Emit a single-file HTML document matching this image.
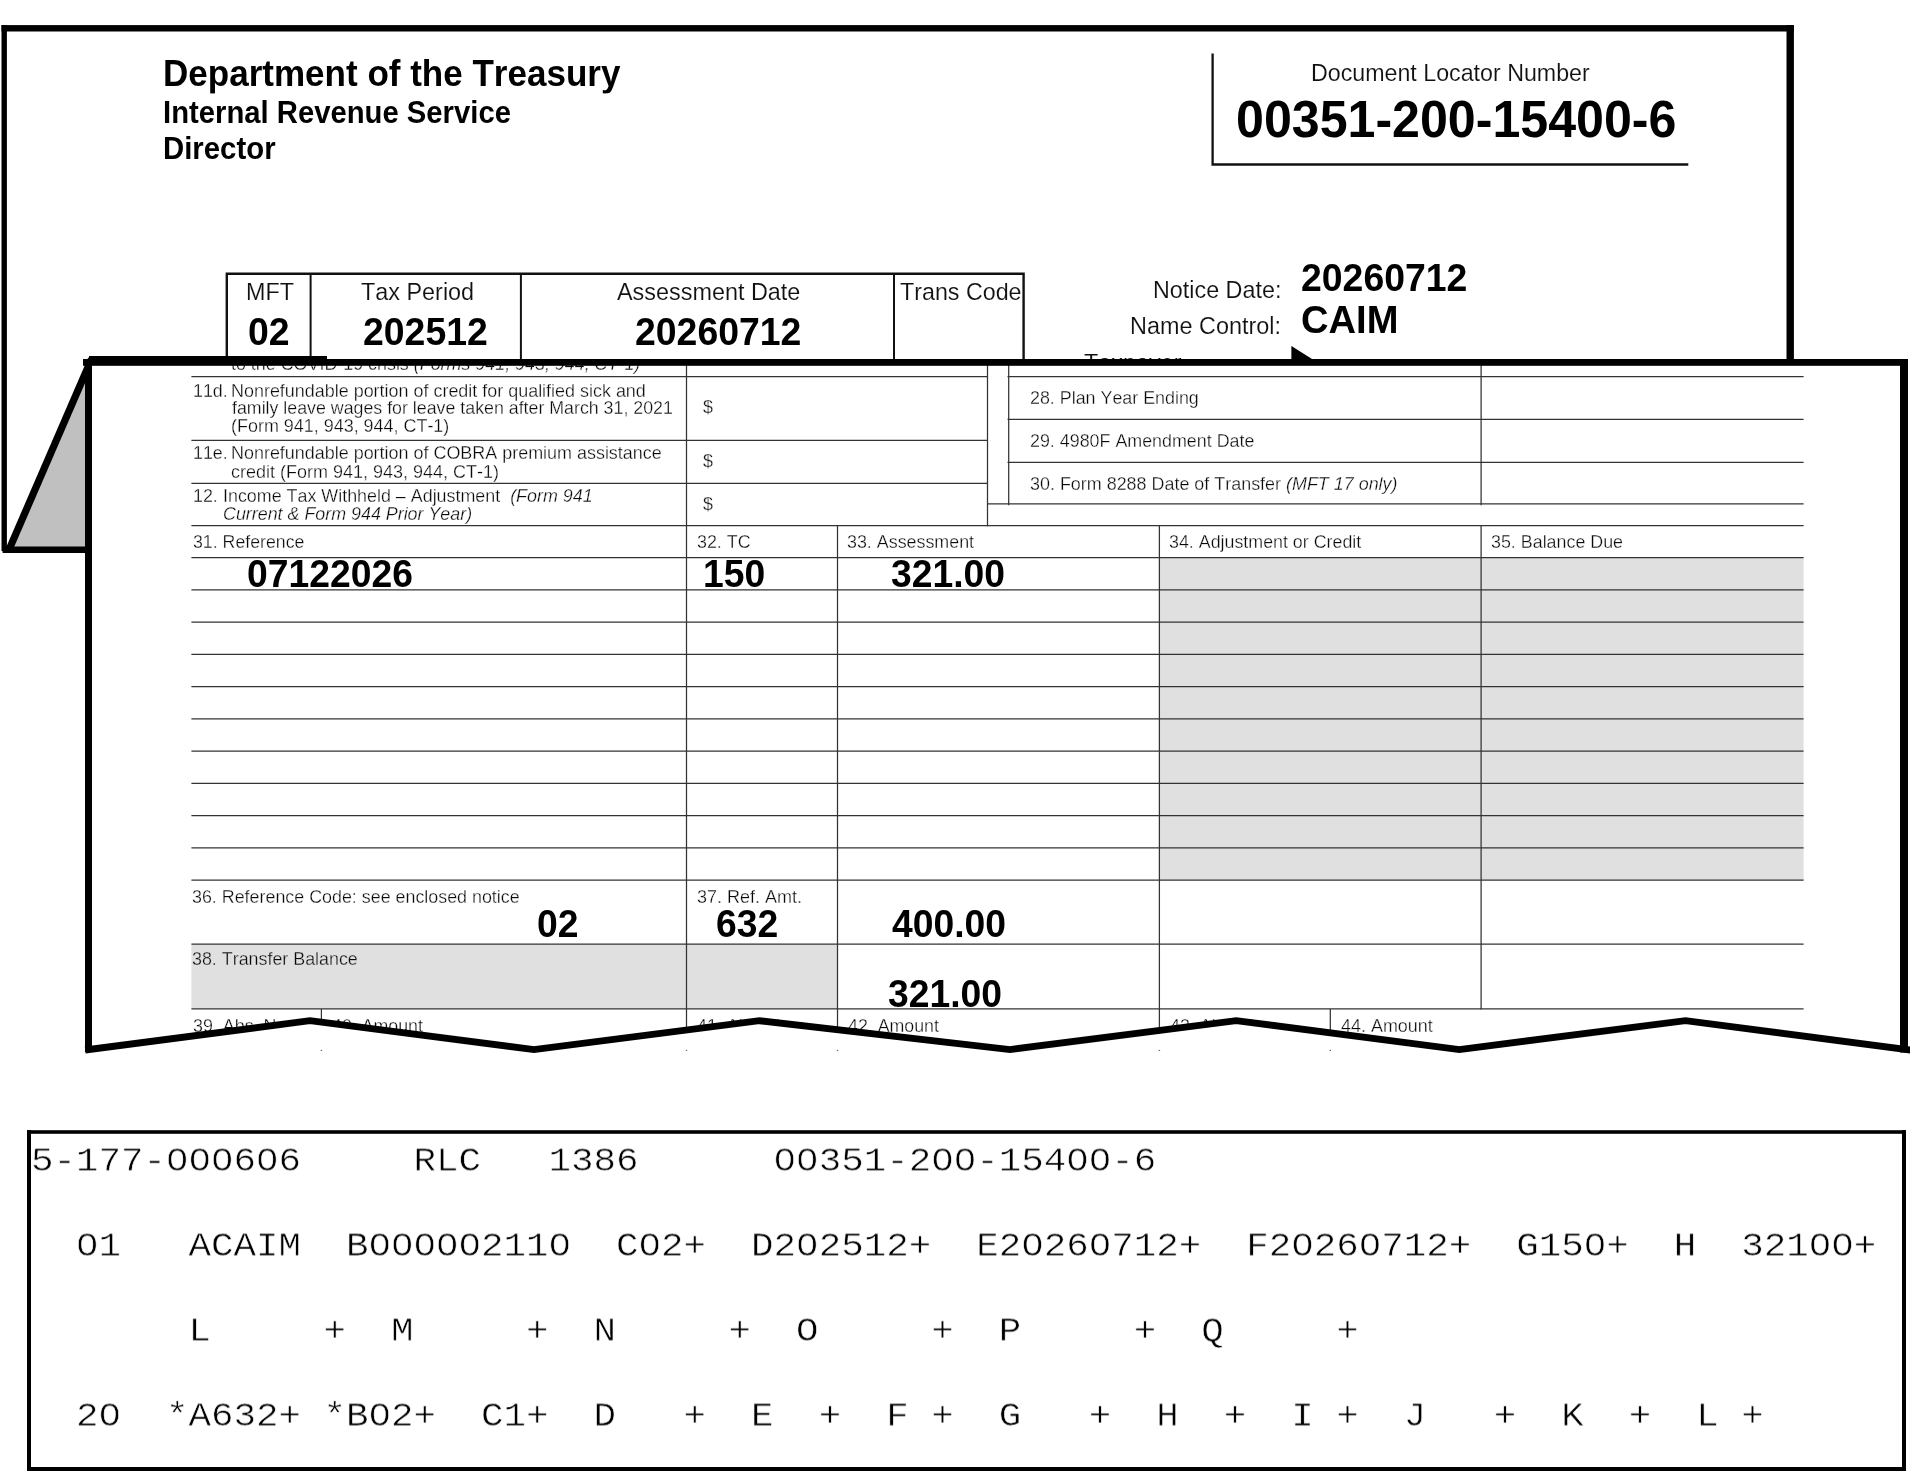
<!DOCTYPE html>
<html lang="en"><head><meta charset="utf-8"><title>Form 3552 example</title>
<style>
html,body{margin:0;padding:0;background:#fff;}
body{width:1910px;height:1471px;position:relative;overflow:hidden;font-family:"Liberation Sans",sans-serif;color:#000;font-kerning:none;}
.t{position:absolute;white-space:pre;line-height:1;will-change:transform;}
svg{position:absolute;left:0;top:0;}
#front{position:absolute;left:0;top:0;width:1910px;height:1471px;clip-path:polygon(88.5px 362.4px,1904px 362.4px,1904px 1049.4px,1685.5px 1020.7px,1459.3px 1049.6px,1236.2px 1020.7px,1010px 1049.6px,759.5px 1020.7px,534px 1049.6px,310px 1020.7px,88.5px 1049.6px);}
.m{position:absolute;white-space:pre;line-height:1;font-family:"Liberation Mono",monospace;font-size:37.5px;left:30.6px;color:#000;will-change:transform;-webkit-text-stroke:0.6px #fff;transform:translateY(0.5px) scaleY(0.915);transform-origin:0 28px;}
</style></head><body>

<svg width="1910" height="1471" viewBox="0 0 1910 1471">
<rect x="1.5" y="25.1" width="1792.4" height="6.4" fill="#000"/>
<rect x="1786.5" y="25.1" width="7.4" height="340" fill="#000"/>
<rect x="1.5" y="25.1" width="5.4" height="526" fill="#000"/>
<rect x="2.6" y="546" width="88" height="7" fill="#000"/>
<path d="M1212.6 53.6 L1212.6 164.5 L1688.3 164.5" fill="none" stroke="#111" stroke-width="2.3"/>
<path d="M226.8 364 L226.8 273.8 L1023.6 273.8 L1023.6 364" fill="none" stroke="#111" stroke-width="2.4"/>
<path d="M310.6 274 L310.6 364" stroke="#111" stroke-width="2" fill="none"/>
<path d="M520.9 274 L520.9 364" stroke="#111" stroke-width="2" fill="none"/>
<path d="M894.0 274 L894.0 364" stroke="#111" stroke-width="2" fill="none"/>
<polygon points="1291.4,346 1316,361.5 1291.4,377" fill="#000"/>
<polygon points="10.4,546.5 89.5,363.7 89.5,546.5" fill="#c0c0c0"/>
<clipPath id="cd"><rect x="1.5" y="350" width="95" height="203"/></clipPath>
<path d="M7.4 553.4 L91.5 359" stroke="#000" stroke-width="7.2" fill="none" clip-path="url(#cd)"/>
</svg>
<div class="t" style="left:162.66px;top:56px;font-size:35.04px;font-weight:bold;transform:scaleY(1.05);transform-origin:0 30px;">Department of the Treasury</div>
<div class="t" style="left:163.04px;top:99px;font-size:29.25px;font-weight:bold;transform:scaleY(1.09);transform-origin:0 24px;">Internal Revenue Service</div>
<div class="t" style="left:163.04px;top:134px;font-size:29.37px;font-weight:bold;transform:scaleY(1.095);transform-origin:0 25px;">Director</div>
<div class="t" style="left:1311.49px;top:62px;font-size:23.23px;color:#111;-webkit-text-stroke:0.12px #fff;transform:scaleY(1.02);transform-origin:0 19px;">Document Locator Number</div>
<div class="t" style="left:1236.02px;top:95px;font-size:50.14px;font-weight:bold;transform:scaleY(1.02);transform-origin:0 42px;">00351-200-15400-6</div>
<div class="t" style="left:246.19px;top:281px;font-size:23.34px;color:#111;-webkit-text-stroke:0.12px #fff;transform:scaleY(1.02);transform-origin:0 19px;">MFT</div>
<div class="t" style="left:361.07px;top:281px;font-size:23.40px;color:#111;-webkit-text-stroke:0.12px #fff;transform:scaleY(1.02);transform-origin:0 19px;">Tax Period</div>
<div class="t" style="left:616.85px;top:281px;font-size:23.40px;color:#111;-webkit-text-stroke:0.12px #fff;transform:scaleY(1.02);transform-origin:0 19px;">Assessment Date</div>
<div class="t" style="left:899.98px;top:281px;font-size:23.27px;color:#111;-webkit-text-stroke:0.12px #fff;transform:scaleY(1.02);transform-origin:0 19px;">Trans Code</div>
<div class="t" style="left:248.21px;top:314px;font-size:37.40px;font-weight:bold;transform:scaleY(1.02);transform-origin:0 31px;">02</div>
<div class="t" style="left:363.25px;top:314px;font-size:37.40px;font-weight:bold;transform:scaleY(1.02);transform-origin:0 31px;">202512</div>
<div class="t" style="left:634.75px;top:314px;font-size:37.40px;font-weight:bold;transform:scaleY(1.02);transform-origin:0 31px;">20260712</div>
<div class="t" style="left:1152.99px;top:279px;font-size:23.34px;color:#111;-webkit-text-stroke:0.12px #fff;transform:scaleY(1.02);transform-origin:0 19px;">Notice Date:</div>
<div class="t" style="left:1130.38px;top:315px;font-size:23.43px;color:#111;-webkit-text-stroke:0.12px #fff;transform:scaleY(1.02);transform-origin:0 19px;">Name Control:</div>
<div class="t" style="left:1301.25px;top:260px;font-size:37.40px;font-weight:bold;transform:scaleY(1.02);transform-origin:0 31px;">20260712</div>
<div class="t" style="left:1300.74px;top:301px;font-size:38.12px;font-weight:bold;transform:scaleY(1.02);transform-origin:0 32px;">CAIM</div>
<div class="t" style="left:1084.07px;top:352px;font-size:23.40px;color:#111;-webkit-text-stroke:0.12px #fff;transform:scaleY(1.02);transform-origin:0 19px;">Taxpayer</div>
<svg width="1910" height="1471" viewBox="0 0 1910 1471">
<polygon points="88.5,362.4 1904,362.4 1904,1049.4 1685.5,1020.7 1459.3,1049.6 1236.2,1020.7 1010,1049.6 759.5,1020.7 534,1049.6 310,1020.7 88.5,1049.6" fill="#fff" stroke="none"/>
</svg>
<div id="front">
<svg width="1910" height="1471" viewBox="0 0 1910 1471">
<rect x="1159.4" y="557.7" width="644.2" height="322.4" fill="#e0e0e0"/>
<rect x="191.4" y="944.2" width="646.1" height="64.7" fill="#e0e0e0"/>
<path d="M191.4 376.6 L987.6 376.6" stroke="#333" stroke-width="1.25" fill="none"/>
<path d="M1007.5 376.6 L1803.6 376.6" stroke="#333" stroke-width="1.25" fill="none"/>
<path d="M191.4 440.4 L987.6 440.4" stroke="#333" stroke-width="1.25" fill="none"/>
<path d="M191.4 483.4 L987.6 483.4" stroke="#333" stroke-width="1.25" fill="none"/>
<path d="M191.4 525.5 L1803.6 525.5" stroke="#333" stroke-width="1.25" fill="none"/>
<path d="M1007.5 419.3 L1803.6 419.3" stroke="#333" stroke-width="1.25" fill="none"/>
<path d="M1007.5 462.4 L1803.6 462.4" stroke="#333" stroke-width="1.25" fill="none"/>
<path d="M987.6 503.9 L1803.6 503.9" stroke="#333" stroke-width="1.25" fill="none"/>
<path d="M191.4 557.7 L1803.6 557.7" stroke="#333" stroke-width="1.25" fill="none"/>
<path d="M191.4 589.94 L1803.6 589.94" stroke="#333" stroke-width="1.25" fill="none"/>
<path d="M191.4 622.18 L1803.6 622.18" stroke="#333" stroke-width="1.25" fill="none"/>
<path d="M191.4 654.42 L1803.6 654.42" stroke="#333" stroke-width="1.25" fill="none"/>
<path d="M191.4 686.66 L1803.6 686.66" stroke="#333" stroke-width="1.25" fill="none"/>
<path d="M191.4 718.9 L1803.6 718.9" stroke="#333" stroke-width="1.25" fill="none"/>
<path d="M191.4 751.14 L1803.6 751.14" stroke="#333" stroke-width="1.25" fill="none"/>
<path d="M191.4 783.38 L1803.6 783.38" stroke="#333" stroke-width="1.25" fill="none"/>
<path d="M191.4 815.62 L1803.6 815.62" stroke="#333" stroke-width="1.25" fill="none"/>
<path d="M191.4 847.86 L1803.6 847.86" stroke="#333" stroke-width="1.25" fill="none"/>
<path d="M191.4 880.1 L1803.6 880.1" stroke="#333" stroke-width="1.25" fill="none"/>
<path d="M191.4 944.2 L1803.6 944.2" stroke="#333" stroke-width="1.25" fill="none"/>
<path d="M191.4 1008.9 L1803.6 1008.9" stroke="#333" stroke-width="1.25" fill="none"/>
<path d="M686.5 362 L686.5 1062" stroke="#333" stroke-width="1.25" fill="none"/>
<path d="M987.5 362 L987.5 526.3" stroke="#333" stroke-width="1.25" fill="none"/>
<path d="M1008.7 362 L1008.7 505.3" stroke="#333" stroke-width="1.25" fill="none"/>
<path d="M1481.1 362 L1481.1 505.3" stroke="#333" stroke-width="1.25" fill="none"/>
<path d="M1481.1 525.5 L1481.1 1009.6" stroke="#333" stroke-width="1.25" fill="none"/>
<path d="M837.5 525.5 L837.5 1062" stroke="#333" stroke-width="1.25" fill="none"/>
<path d="M1159.4 525.5 L1159.4 1062" stroke="#333" stroke-width="1.25" fill="none"/>
<path d="M321.4 1009 L321.4 1062" stroke="#333" stroke-width="1.25" fill="none"/>
<path d="M1330.3 1009 L1330.3 1062" stroke="#333" stroke-width="1.25" fill="none"/>
</svg>
<div class="t" style="left:231.43px;top:356px;font-size:17.89px;color:#0a0a0a;-webkit-text-stroke:0.3px #fff;transform:scaleY(1.02);transform-origin:0 14px;">to the COVID-19 crisis <i>(Forms 941, 943, 944, CT-1)</i></div>
<div class="t" style="left:193.24px;top:383px;font-size:17.88px;color:#0a0a0a;-webkit-text-stroke:0.3px #fff;transform:scaleY(1.02);transform-origin:0 14px;">11d.</div>
<div class="t" style="left:231.13px;top:383px;font-size:17.95px;color:#0a0a0a;-webkit-text-stroke:0.3px #fff;transform:scaleY(1.02);transform-origin:0 14px;">Nonrefundable portion of credit for qualified sick and</div>
<div class="t" style="left:231.95px;top:400px;font-size:17.79px;color:#0a0a0a;-webkit-text-stroke:0.3px #fff;transform:scaleY(1.02);transform-origin:0 14px;">family leave wages for leave taken after March 31, 2021</div>
<div class="t" style="left:231.19px;top:418px;font-size:17.97px;color:#0a0a0a;-webkit-text-stroke:0.3px #fff;transform:scaleY(1.02);transform-origin:0 14px;">(Form 941, 943, 944, CT-1)</div>
<div class="t" style="left:193.24px;top:445px;font-size:17.88px;color:#0a0a0a;-webkit-text-stroke:0.3px #fff;transform:scaleY(1.02);transform-origin:0 14px;">11e.</div>
<div class="t" style="left:231.13px;top:445px;font-size:17.95px;color:#0a0a0a;-webkit-text-stroke:0.3px #fff;transform:scaleY(1.02);transform-origin:0 14px;">Nonrefundable portion of COBRA premium assistance</div>
<div class="t" style="left:231.24px;top:463px;font-size:17.99px;color:#0a0a0a;-webkit-text-stroke:0.3px #fff;transform:scaleY(1.02);transform-origin:0 14px;">credit (Form 941, 943, 944, CT-1)</div>
<div class="t" style="left:193.24px;top:488px;font-size:17.88px;color:#0a0a0a;-webkit-text-stroke:0.3px #fff;transform:scaleY(1.02);transform-origin:0 14px;">12.</div>
<div class="t" style="left:223.35px;top:488px;font-size:17.89px;color:#0a0a0a;-webkit-text-stroke:0.3px #fff;transform:scaleY(1.02);transform-origin:0 14px;">Income Tax Withheld – Adjustment  <i>(Form 941</i></div>
<div class="t" style="left:223.41px;top:506px;font-size:17.88px;color:#0a0a0a;-webkit-text-stroke:0.3px #fff;transform:scaleY(1.02);transform-origin:0 14px;"><i>Current &amp; Form 944 Prior Year)</i></div>
<div class="t" style="left:192.52px;top:534px;font-size:17.74px;color:#0a0a0a;-webkit-text-stroke:0.3px #fff;transform:scaleY(1.02);transform-origin:0 14px;">31. Reference</div>
<div class="t" style="left:702.81px;top:399px;font-size:17.88px;color:#0a0a0a;-webkit-text-stroke:0.3px #fff;transform:scaleY(1.02);transform-origin:0 14px;">$</div>
<div class="t" style="left:702.81px;top:453px;font-size:17.88px;color:#0a0a0a;-webkit-text-stroke:0.3px #fff;transform:scaleY(1.02);transform-origin:0 14px;">$</div>
<div class="t" style="left:702.81px;top:496px;font-size:17.88px;color:#0a0a0a;-webkit-text-stroke:0.3px #fff;transform:scaleY(1.02);transform-origin:0 14px;">$</div>
<div class="t" style="left:1029.60px;top:390px;font-size:17.88px;color:#0a0a0a;-webkit-text-stroke:0.3px #fff;transform:scaleY(1.02);transform-origin:0 14px;">28. Plan Year Ending</div>
<div class="t" style="left:1029.60px;top:433px;font-size:17.86px;color:#0a0a0a;-webkit-text-stroke:0.3px #fff;transform:scaleY(1.02);transform-origin:0 14px;">29. 4980F Amendment Date</div>
<div class="t" style="left:1029.82px;top:476px;font-size:17.93px;color:#0a0a0a;-webkit-text-stroke:0.3px #fff;transform:scaleY(1.02);transform-origin:0 14px;">30. Form 8288 Date of Transfer <i>(MFT 17 only)</i></div>
<div class="t" style="left:697.02px;top:534px;font-size:17.88px;color:#0a0a0a;-webkit-text-stroke:0.3px #fff;transform:scaleY(1.02);transform-origin:0 14px;">32. TC</div>
<div class="t" style="left:847.32px;top:534px;font-size:17.88px;color:#0a0a0a;-webkit-text-stroke:0.3px #fff;transform:scaleY(1.02);transform-origin:0 14px;">33. Assessment</div>
<div class="t" style="left:1168.92px;top:534px;font-size:17.83px;color:#0a0a0a;-webkit-text-stroke:0.3px #fff;transform:scaleY(1.02);transform-origin:0 14px;">34. Adjustment or Credit</div>
<div class="t" style="left:1491.12px;top:534px;font-size:17.86px;color:#0a0a0a;-webkit-text-stroke:0.3px #fff;transform:scaleY(1.02);transform-origin:0 14px;">35. Balance Due</div>
<div class="t" style="left:192.32px;top:889px;font-size:17.88px;color:#0a0a0a;-webkit-text-stroke:0.3px #fff;transform:scaleY(1.02);transform-origin:0 14px;">36. Reference Code: see enclosed notice</div>
<div class="t" style="left:696.81px;top:888px;font-size:18.03px;color:#0a0a0a;-webkit-text-stroke:0.3px #fff;transform:scaleY(1.02);transform-origin:0 15px;">37. Ref. Amt.</div>
<div class="t" style="left:192.32px;top:951px;font-size:17.88px;color:#0a0a0a;-webkit-text-stroke:0.3px #e0e0e0;transform:scaleY(1.02);transform-origin:0 14px;">38. Transfer Balance</div>
<div class="t" style="left:192.72px;top:1018px;font-size:17.88px;color:#0a0a0a;-webkit-text-stroke:0.3px #fff;transform:scaleY(1.02);transform-origin:0 14px;">39. Abs. Num</div>
<div class="t" style="left:331.59px;top:1018px;font-size:17.80px;color:#0a0a0a;-webkit-text-stroke:0.3px #fff;transform:scaleY(1.02);transform-origin:0 14px;">40. Amount</div>
<div class="t" style="left:696.99px;top:1018px;font-size:17.88px;color:#0a0a0a;-webkit-text-stroke:0.3px #fff;transform:scaleY(1.02);transform-origin:0 14px;">41. Abs. Num</div>
<div class="t" style="left:847.79px;top:1018px;font-size:17.80px;color:#0a0a0a;-webkit-text-stroke:0.3px #fff;transform:scaleY(1.02);transform-origin:0 14px;">42. Amount</div>
<div class="t" style="left:1169.59px;top:1018px;font-size:17.88px;color:#0a0a0a;-webkit-text-stroke:0.3px #fff;transform:scaleY(1.02);transform-origin:0 14px;">43. Abs. Num</div>
<div class="t" style="left:1340.59px;top:1018px;font-size:17.94px;color:#0a0a0a;-webkit-text-stroke:0.3px #fff;transform:scaleY(1.02);transform-origin:0 14px;">44. Amount</div>
<div class="t" style="left:246.51px;top:556px;font-size:37.30px;font-weight:bold;transform:scaleY(1.02);transform-origin:0 31px;">07122026</div>
<div class="t" style="left:702.92px;top:556px;font-size:37.30px;font-weight:bold;transform:scaleY(1.02);transform-origin:0 31px;">150</div>
<div class="t" style="left:891.19px;top:556px;font-size:37.30px;font-weight:bold;transform:scaleY(1.02);transform-origin:0 31px;">321.00</div>
<div class="t" style="left:537.41px;top:906px;font-size:37.30px;font-weight:bold;transform:scaleY(1.02);transform-origin:0 31px;">02</div>
<div class="t" style="left:715.60px;top:906px;font-size:37.30px;font-weight:bold;transform:scaleY(1.02);transform-origin:0 31px;">632</div>
<div class="t" style="left:892.49px;top:906px;font-size:37.30px;font-weight:bold;transform:scaleY(1.02);transform-origin:0 31px;">400.00</div>
<div class="t" style="left:887.64px;top:976px;font-size:37.30px;font-weight:bold;transform:scaleY(1.02);transform-origin:0 31px;">321.00</div>
</div>
<svg width="1910" height="1471" viewBox="0 0 1910 1471">
<rect x="83" y="359" width="1825" height="6.8" fill="#000"/>
<rect x="89" y="356" width="238" height="5" fill="#000"/>
<rect x="85" y="359" width="7" height="693" fill="#000"/>
<rect x="1900" y="359" width="8" height="693.5" fill="#000"/>
<polyline points="85.2,1050.0 310,1020.7 534,1049.6 759.5,1020.7 1010,1049.6 1236.2,1020.7 1459.3,1049.6 1685.5,1020.7 1912,1050.2" fill="none" stroke="#000" stroke-width="6.9" stroke-linejoin="miter"/>
<rect x="320.7" y="1049.9" width="1.4" height="1" fill="#555"/>
<rect x="685.8" y="1049.9" width="1.4" height="1" fill="#555"/>
<rect x="836.8" y="1049.9" width="1.4" height="1" fill="#555"/>
<rect x="1158.7" y="1049.9" width="1.4" height="1" fill="#555"/>
<rect x="1329.6" y="1049.9" width="1.4" height="1" fill="#555"/>
<rect x="27" y="1130.2" width="1879" height="3.6" fill="#000"/>
<rect x="27" y="1130.2" width="4" height="341" fill="#000"/>
<rect x="1902" y="1130.2" width="4" height="341" fill="#000"/>
<rect x="27" y="1467" width="1879" height="5" fill="#000"/>
</svg>
<div class="m" style="top:1142px">5-177-000606     RLC   1386      00351-200-15400-6</div>
<div class="m" style="top:1227px">  01   ACAIM  B000002110  C02+  D202512+  E20260712+  F20260712+  G150+  H  32100+</div>
<div class="m" style="top:1312px">       L     +  M     +  N     +  O     +  P     +  Q     +</div>
<div class="m" style="top:1397px">  20  *A632+ *B02+  C1+  D   +  E  +  F +  G   +  H  +  I +  J   +  K  +  L +</div>
<svg width="1910" height="1471" viewBox="0 0 1910 1471"><rect x="173.4" y="1155.7" width="6.9" height="6.8" fill="#fff"/><rect x="195.9" y="1155.7" width="6.9" height="6.8" fill="#fff"/><rect x="218.4" y="1155.7" width="6.9" height="6.8" fill="#fff"/><rect x="263.4" y="1155.7" width="6.9" height="6.8" fill="#fff"/><rect x="781.0" y="1155.7" width="6.9" height="6.8" fill="#fff"/><rect x="803.5" y="1155.7" width="6.9" height="6.8" fill="#fff"/><rect x="938.5" y="1155.7" width="6.9" height="6.8" fill="#fff"/><rect x="961.1" y="1155.7" width="6.9" height="6.8" fill="#fff"/><rect x="1073.6" y="1155.7" width="6.9" height="6.8" fill="#fff"/><rect x="1096.1" y="1155.7" width="6.9" height="6.8" fill="#fff"/><rect x="83.4" y="1240.7" width="6.9" height="6.8" fill="#fff"/><rect x="376.0" y="1240.7" width="6.9" height="6.8" fill="#fff"/><rect x="398.5" y="1240.7" width="6.9" height="6.8" fill="#fff"/><rect x="421.0" y="1240.7" width="6.9" height="6.8" fill="#fff"/><rect x="443.5" y="1240.7" width="6.9" height="6.8" fill="#fff"/><rect x="466.0" y="1240.7" width="6.9" height="6.8" fill="#fff"/><rect x="556.0" y="1240.7" width="6.9" height="6.8" fill="#fff"/><rect x="646.0" y="1240.7" width="6.9" height="6.8" fill="#fff"/><rect x="803.5" y="1240.7" width="6.9" height="6.8" fill="#fff"/><rect x="1028.6" y="1240.7" width="6.9" height="6.8" fill="#fff"/><rect x="1096.1" y="1240.7" width="6.9" height="6.8" fill="#fff"/><rect x="1298.6" y="1240.7" width="6.9" height="6.8" fill="#fff"/><rect x="1366.1" y="1240.7" width="6.9" height="6.8" fill="#fff"/><rect x="1591.2" y="1240.7" width="6.9" height="6.8" fill="#fff"/><rect x="1816.2" y="1240.7" width="6.9" height="6.8" fill="#fff"/><rect x="1838.7" y="1240.7" width="6.9" height="6.8" fill="#fff"/><rect x="105.9" y="1410.7" width="6.9" height="6.8" fill="#fff"/><rect x="376.0" y="1410.7" width="6.9" height="6.8" fill="#fff"/></svg>
</body></html>
